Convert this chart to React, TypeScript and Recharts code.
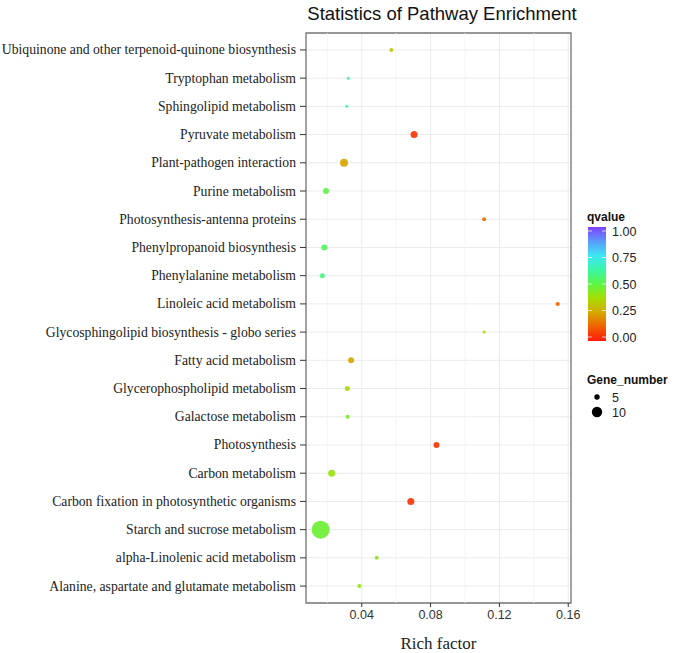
import React from "react";
import {
  CartesianGrid,
  Label,
  ReferenceArea,
  ReferenceLine,
  Scatter,
  ScatterChart,
  XAxis,
  YAxis,
} from "recharts";

// ---------------------------------------------------------------------------
// Data (top row first, as drawn)
// ---------------------------------------------------------------------------

const pathways = [
  "Ubiquinone and other terpenoid-quinone biosynthesis",
  "Tryptophan metabolism",
  "Sphingolipid metabolism",
  "Pyruvate metabolism",
  "Plant-pathogen interaction",
  "Purine metabolism",
  "Photosynthesis-antenna proteins",
  "Phenylpropanoid biosynthesis",
  "Phenylalanine metabolism",
  "Linoleic acid metabolism",
  "Glycosphingolipid biosynthesis - globo series",
  "Fatty acid metabolism",
  "Glycerophospholipid metabolism",
  "Galactose metabolism",
  "Photosynthesis",
  "Carbon metabolism",
  "Carbon fixation in photosynthetic organisms",
  "Starch and sucrose metabolism",
  "alpha-Linolenic acid metabolism",
  "Alanine, aspartate and glutamate metabolism",
];

const richFactor = [
  0.0572, 0.0322, 0.0313, 0.0704, 0.0297, 0.0192, 0.1111, 0.0182, 0.0171,
  0.1539, 0.1111, 0.0338, 0.0316, 0.0318, 0.0834, 0.0225, 0.0685, 0.0161,
  0.0487, 0.0386,
];

const qValue = [
  0.33, 0.65, 0.65, 0.05, 0.25, 0.5, 0.15, 0.53, 0.58, 0.13, 0.37, 0.25, 0.37,
  0.45, 0.05, 0.4, 0.05, 0.47, 0.42, 0.4,
];

const geneNumber = [3, 2, 2, 6, 7, 5, 3, 5, 4, 3, 2, 5, 4, 3, 5, 6, 6, 17, 3, 3];

const xTicks = [0.04, 0.08, 0.12, 0.16];
const xMinorTicks = [0.02, 0.06, 0.1, 0.14];
const qTicks = [1, 0.75, 0.5, 0.25, 0];
const sizeBreaks = [5, 10];

// ---------------------------------------------------------------------------
// Scales for colour / size
// ---------------------------------------------------------------------------

const colorStops: [number, string][] = [
  [0, "#FF1A0A"],
  [0.125, "#F06000"],
  [0.25, "#D6A800"],
  [0.375, "#A6DE00"],
  [0.5, "#5CF545"],
  [0.625, "#3CF5A8"],
  [0.75, "#3EE6F5"],
  [0.875, "#5A9AFA"],
  [1, "#8040FF"],
];

function hexToRgb(h: string) {
  return [1, 3, 5].map((i) => parseInt(h.slice(i, i + 2), 16));
}

function qColor(q: number) {
  for (let i = 1; i < colorStops.length; i++) {
    const [p1, c1] = colorStops[i];
    if (q <= p1) {
      const [p0, c0] = colorStops[i - 1];
      const t = (q - p0) / (p1 - p0);
      const a = hexToRgb(c0);
      const b = hexToRgb(c1);
      const rgb = a.map((v, k) => Math.round(v + (b[k] - v) * t));
      return `rgb(${rgb.join(",")})`;
    }
  }
  return colorStops[colorStops.length - 1][1];
}

const radius = (n: number) => (1 + n) / 2;

const X_MIN = 0.0076;
const X_MAX = 0.1616;
const N = pathways.length;

const data = pathways.map((name, i) => ({
  name,
  x: richFactor[i],
  y: N - i,
  q: qValue[i],
  n: geneNumber[i],
}));

const yTicks = data.map((d) => d.y);

const serif = "'Liberation Serif', 'DejaVu Serif', serif";
const sans = "'Liberation Sans', Arial, sans-serif";

function Dot(props: any) {
  const { cx, cy, payload } = props;
  return (
    <circle
      cx={cx}
      cy={cy}
      r={radius(payload.n)}
      fill={qColor(payload.q)}
      fillOpacity={0.92}
    />
  );
}

// plain text tick so long names never wrap
function PathwayTick(props: any) {
  const { x, y, payload } = props;
  return (
    <text
      x={x}
      y={y}
      dy={4.5}
      textAnchor="end"
      fontFamily={serif}
      fontSize={13.7}
      fill="#222"
    >
      {pathways[N - payload.value]}
    </text>
  );
}

function Legends() {
  const barX = 588;
  const barTop = 227;
  const barH = 114;
  const barW = 18;
  return (
    <g>
      <defs>
        <linearGradient id="qgrad" x1="0" y1="1" x2="0" y2="0">
          {colorStops.map(([p, c]) => (
            <stop key={p} offset={`${p * 100}%`} stopColor={c} />
          ))}
        </linearGradient>
      </defs>
      <text
        x={587}
        y={221}
        fontFamily={sans}
        fontSize={12}
        fontWeight="bold"
        fill="#111"
      >
        qvalue
      </text>
      <rect x={barX} y={barTop} width={barW} height={barH} fill="url(#qgrad)" />
      {qTicks.map((t) => {
        const y = barTop + 4 + (1 - t) * (barH - 8);
        return (
          <g key={t}>
            <line x1={barX} x2={barX + 4} y1={y} y2={y} stroke="#fff" strokeOpacity={0.7} />
            <line
              x1={barX + barW - 4}
              x2={barX + barW}
              y1={y}
              y2={y}
              stroke="#fff"
              strokeOpacity={0.7}
            />
            <text
              x={barX + barW + 6}
              y={y + 4.5}
              fontFamily={sans}
              fontSize={12.5}
              fill="#222"
            >
              {t.toFixed(2)}
            </text>
          </g>
        );
      })}
      <text
        x={587}
        y={384}
        fontFamily={sans}
        fontSize={12}
        fontWeight="bold"
        fill="#111"
      >
        Gene_number
      </text>
      {sizeBreaks.map((b, i) => {
        const y = 397 + i * 15;
        return (
          <g key={b}>
            <circle cx={597} cy={y} r={radius(b) - 0.3} fill="#000" />
            <text x={612} y={y + 4.5} fontFamily={sans} fontSize={12.5} fill="#222">
              {b}
            </text>
          </g>
        );
      })}
    </g>
  );
}

export default function App() {
  return (
    <div style={{ position: "absolute", left: 0, top: 0, background: "#fff" }}>
      <ScatterChart
        width={675}
        height={653}
        margin={{ top: 33, right: 104, left: 0, bottom: 0 }}
      >
        <CartesianGrid stroke="#EBEBEB" strokeWidth={1} />
        {xMinorTicks.map((t) => (
          <ReferenceLine key={t} x={t} stroke="#F2F2F2" strokeWidth={0.8} />
        ))}
        <XAxis
          type="number"
          dataKey="x"
          domain={[X_MIN, X_MAX]}
          ticks={xTicks}
          allowDataOverflow
          height={50}
          axisLine={false}
          tickSize={4}
          tickMargin={3}
          tickLine={{ stroke: "#333" }}
          tickFormatter={(v: number) => v.toFixed(2)}
          tick={{ fontFamily: sans, fontSize: 12.5, fill: "#333" }}
        >
          <Label
            value="Rich factor"
            position="insideBottom"
            offset={4}
            style={{ fontFamily: serif, fontSize: 17, fill: "#222" }}
          />
        </XAxis>
        <YAxis
          type="number"
          dataKey="y"
          domain={[0.4, N + 0.6]}
          ticks={yTicks}
          interval={0}
          allowDataOverflow
          width={306}
          axisLine={false}
          tickSize={6}
          tickMargin={4}
          tickLine={{ stroke: "#333" }}
          tick={<PathwayTick />}
        />
        <ReferenceArea
          x1={X_MIN}
          x2={X_MAX}
          y1={0.4}
          y2={N + 0.6}
          fill="none"
          stroke="#777"
          strokeWidth={1.3}
        />
        <Scatter data={data} shape={<Dot />} isAnimationActive={false} />
        <text
          x={442}
          y={20}
          textAnchor="middle"
          fontFamily={sans}
          fontSize={18.5}
          fill="#111"
        >
          Statistics of Pathway Enrichment
        </text>
        <Legends />
      </ScatterChart>
    </div>
  );
}
